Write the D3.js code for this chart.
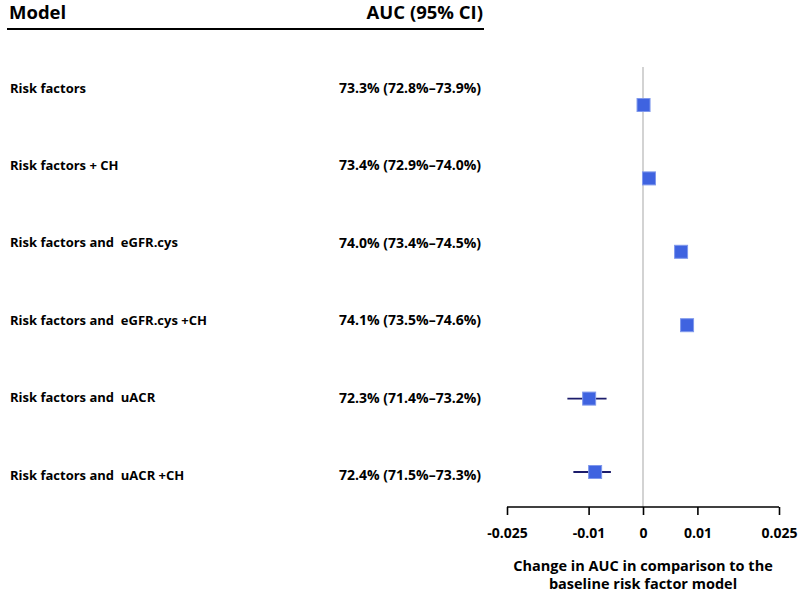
<!DOCTYPE html>
<html>
  <head>
    <meta charset="utf-8">
    <title></title>
    <script type="text/javascript" src="https://d3js.org/d3.v7.min.js"></script>
    <style media="screen">
      body { margin: 0; background: #fff; }
      text { font-family: "Open Sans", "Noto Sans", sans-serif; font-weight: bold; fill: #000; }
    </style>
  </head>
  <body>

    <script type="text/javascript">

      var models = ["Risk factors", "Risk factors + CH", "Risk factors and  eGFR.cys",
                    "Risk factors and  eGFR.cys +CH", "Risk factors and  uACR", "Risk factors and  uACR +CH"];
      var aucText = ["73.3% (72.8%\u201373.9%)", "73.4% (72.9%\u201374.0%)", "74.0% (73.4%\u201374.5%)",
                     "74.1% (73.5%\u201374.6%)", "72.3% (71.4%\u201373.2%)", "72.4% (71.5%\u201373.3%)"];
      var change = [0.0001, 0.0011, 0.0070, 0.0081, -0.0099, -0.0088];
      var ciLow  = [-0.0004, 0.0007, 0.0067, 0.0078, -0.0139, -0.0128];
      var ciHigh = [0.0006, 0.0015, 0.0073, 0.0084, -0.0067, -0.0059];
      var tickVals = [-0.025, -0.01, 0, 0.01, 0.025];

      var w = 800;
      var h = 597;

      var svg = d3.select('body')
        .append('svg')
        .attr('width', w)
        .attr('height', h);

      var xscale = d3.scaleLinear()
        .domain([-0.025, 0.025])
        .range([507, 779]);

      var idx = d3.range(models.length);

      // rows for the markers, rows for the text (text sits a bit off the markers)
      var yscale = d3.scaleLinear().domain([0, models.length - 1]).range([105, 472]);
      var ytext = d3.scaleLinear().domain([0, models.length - 1]).range([88, 475]);

      // header
      svg.append('text').attr('x', 9).attr('y', 19).style('font-size', '18.5px').text('Model');
      svg.append('text').attr('x', 483).attr('y', 19).attr('text-anchor', 'end')
        .style('font-size', '18.5px').text('AUC (95% CI)');
      svg.append('line')
        .attr('x1', 7).attr('x2', 484).attr('y1', 29).attr('y2', 29)
        .attr('stroke', '#000').attr('stroke-width', 2);

      // labels
      svg.selectAll('text.model')
        .data(idx)
        .enter()
        .append('text')
        .attr('class', 'model')
        .attr('x', 10)
        .attr('y', function(i){ return ytext(i); })
        .attr('dy', '0.35em')
        .style('font-size', '13px')
        .style('white-space', 'pre')
        .text(function(i){ return models[i]; });

      svg.selectAll('text.auc')
        .data(idx)
        .enter()
        .append('text')
        .attr('class', 'auc')
        .attr('x', 481)
        .attr('y', function(i){ return ytext(i); })
        .attr('dy', '0.35em')
        .attr('text-anchor', 'end')
        .style('font-size', '14px')
        .text(function(i){ return aucText[i]; });

      // reference line at 0
      svg.append('line')
        .attr('x1', xscale(0)).attr('x2', xscale(0))
        .attr('y1', 67).attr('y2', 507)
        .attr('stroke', '#d3d3d3').attr('stroke-width', 2);

      // confidence intervals
      svg.selectAll('line.ci')
        .data(idx)
        .enter()
        .append('line')
        .attr('class', 'ci')
        .attr('x1', function(i){ return xscale(ciLow[i]); })
        .attr('x2', function(i){ return xscale(ciHigh[i]); })
        .attr('y1', function(i){ return yscale(i); })
        .attr('y2', function(i){ return yscale(i); })
        .attr('stroke', '#1c1c6b')
        .attr('stroke-width', 1.8);

      var sq = 13;
      svg.selectAll('rect.pt')
        .data(idx)
        .enter()
        .append('rect')
        .attr('class', 'pt')
        .attr('x', function(i){ return xscale(change[i]) - sq / 2; })
        .attr('y', function(i){ return yscale(i) - sq / 2; })
        .attr('width', sq)
        .attr('height', sq)
        .attr('fill', '#3f63e0')
        .attr('stroke', '#7f98ec')
        .attr('stroke-width', 1);

      // x axis
      var xAxis = d3.axisBottom()
        .scale(xscale)
        .tickValues(tickVals)
        .tickSize(8)
        .tickPadding(13)
        .tickFormat(function(d){ return d === 0 ? '0' : String(d); });

      var gx = svg.append('g')
        .attr('class', 'x axis')
        .attr('transform', 'translate(0,507)')
        .call(xAxis);
      gx.select('.domain').attr('stroke', '#000').attr('stroke-width', 1.6)
        .attr('d', 'M' + xscale(-0.025) + ',0H' + xscale(0.025));
      gx.selectAll('.tick line').attr('stroke', '#000').attr('stroke-width', 1.6);
      gx.selectAll('.tick text')
        .style('font-family', '"Open Sans", "Noto Sans", sans-serif')
        .style('font-weight', 'bold')
        .style('font-size', '14px');

      svg.append('text')
        .attr('x', xscale(0)).attr('y', 571)
        .attr('text-anchor', 'middle')
        .style('font-size', '14.5px')
        .text('Change in AUC in comparison to the');
      svg.append('text')
        .attr('x', xscale(0)).attr('y', 589)
        .attr('text-anchor', 'middle')
        .style('font-size', '14.5px')
        .text('baseline risk factor model');

    </script>

  </body>
</html>
